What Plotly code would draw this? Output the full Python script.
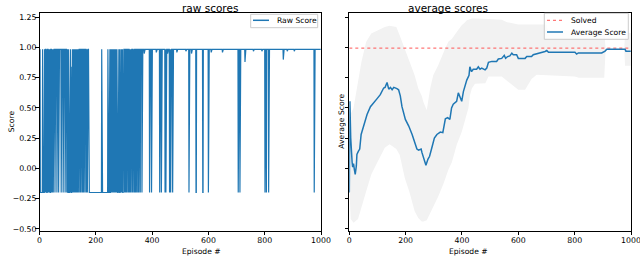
import plotly.graph_objects as go

# ---------------- data ----------------
n_episodes = 1000
episode_ticks = [0, 200, 400, 600, 800, 1000]
score_ticks = [-0.50, -0.25, 0.00, 0.25, 0.50, 0.75, 1.00, 1.25]

success_score = 0.985
fail_score = -0.2
solved_score = 0.995

# runs of failed episodes (inclusive start, end)
fail_runs = [(0, 0), (3, 10), (12, 17), (19, 20), (23, 23), (26, 27), (31, 31), (34, 34), (38, 39),
             (43, 43), (46, 46), (49, 49), (55, 55), (62, 62), (68, 68), (77, 77), (84, 84), (91, 91),
             (97, 97), (101, 102), (104, 104), (106, 107), (109, 109), (111, 111), (113, 114), (116, 116),
             (118, 118), (121, 121), (123, 123), (125, 125), (128, 128), (131, 131), (134, 134), (138, 138),
             (143, 143), (147, 147), (152, 152), (156, 156), (161, 161), (166, 166), (170, 170), (175, 220),
             (222, 242), (244, 244), (246, 247), (249, 249), (251, 252), (254, 254), (256, 256), (258, 259),
             (261, 261), (263, 263), (265, 265), (267, 267), (269, 269), (271, 271), (273, 274), (276, 276),
             (278, 279), (281, 281), (283, 283), (285, 286), (288, 288), (290, 290), (292, 292), (294, 294),
             (296, 297), (299, 299), (302, 302), (305, 305), (308, 308), (311, 311), (314, 314), (316, 316),
             (319, 319), (322, 322), (325, 325), (327, 327), (330, 330), (333, 333), (335, 335), (337, 337),
             (340, 340), (344, 344), (349, 349), (353, 353), (358, 358), (364, 364), (391, 391), (398, 398),
             (427, 427), (433, 433), (446, 446), (449, 449), (462, 462), (466, 466), (473, 473), (531, 531),
             (556, 557), (580, 581), (600, 600), (706, 706), (712, 712), (801, 801), (806, 806), (814, 814),
             (976, 976)]

partial_eps = [37, 70, 92, 105, 112, 119, 372, 415, 455, 488, 520, 540, 610, 650, 730, 760, 790, 866, 880, 905]
partial_vals = [0.93, 0.88, 0.9, 0.91, 0.84, 0.86, 0.95, 0.96, 0.95, 0.96, 0.97, 0.95, 0.96, 0.96, 0.88,
                0.97, 0.97, 0.9, 0.97, 0.97]

avg_eps = [0, 1, 2, 5, 8, 10, 12, 15, 18, 21, 25, 27, 32, 37, 42, 51, 63, 75, 87, 98,
           110, 122, 127, 134, 140, 146, 152, 158, 169, 175, 181, 187, 199, 211, 223, 234, 240, 246, 255, 258,
           264, 272, 279, 285, 293, 302, 311, 323, 332, 341, 349, 357, 363, 369, 381, 387, 393, 399, 405, 411,
           417, 425, 428, 434, 440, 452, 458, 464, 470, 482, 488, 494, 506, 523, 529, 541, 550, 555, 562, 570,
           577, 582, 594, 600, 624, 630, 647, 653, 670, 676, 695, 701, 707, 801, 807, 813, 896, 908, 914, 979,
           982, 999]
avg_vals = [-0.2, 0.39, 0.555, 0.25, 0.066, 0.05, 0.01, 0.04, -0.01, -0.05, 0.02, 0.115, 0.14, 0.16, 0.28,
            0.36, 0.445, 0.51, 0.54, 0.575, 0.61, 0.665, 0.67, 0.71, 0.655, 0.67, 0.65, 0.67, 0.66, 0.65,
            0.6, 0.51, 0.405, 0.35, 0.28, 0.21, 0.16, 0.15, 0.16, 0.13, 0.075, 0.025, 0.075, 0.1, 0.17,
            0.25, 0.28, 0.3, 0.295, 0.41, 0.42, 0.405, 0.5, 0.53, 0.555, 0.625, 0.59, 0.555, 0.635, 0.69,
            0.73, 0.77, 0.84, 0.8, 0.82, 0.82, 0.84, 0.82, 0.83, 0.815, 0.83, 0.877, 0.885, 0.885, 0.905,
            0.91, 0.935, 0.91, 0.925, 0.93, 0.953, 0.94, 0.94, 0.91, 0.91, 0.925, 0.925, 0.94, 0.95, 0.96,
            0.967, 0.975, 0.96, 0.96, 0.946, 0.955, 0.955, 0.97, 0.985, 0.985, 0.97, 0.97]

band_eps = [2, 5, 15, 31, 43, 60, 78, 102, 126, 143, 167, 179, 197, 214, 232, 245, 257, 263, 275, 287,
            298, 316, 334, 340, 352, 364, 382, 399, 411, 417, 423, 428, 435, 446, 483, 494, 541, 560, 600,
            624, 647, 665, 700, 705, 800, 815, 905, 910, 976, 979, 999]
band_upper = [0.56, 0.45, 0.5, 0.7, 0.88, 1.047, 1.115, 1.143, 1.17, 1.18, 1.17, 1.1, 0.99, 0.88, 0.77,
              0.66, 0.6, 0.55, 0.48, 0.66, 0.77, 0.855, 0.965, 0.99, 1.05, 1.07, 1.13, 1.185, 1.21, 1.225,
              1.23, 1.235, 1.24, 1.24, 1.24, 1.235, 1.23, 1.21, 1.19, 1.19, 1.19, 1.19, 1.19, 1.14, 1.14,
              1.14, 1.14, 0.985, 0.985, 1.12, 1.12]
band_lower = [-0.25, -0.42, -0.45, -0.42, -0.33, -0.19, -0.05, 0.06, 0.17, 0.2, 0.16, 0.11, -0.08, -0.2,
              -0.355, -0.41, -0.44, -0.44, -0.43, -0.38, -0.32, -0.23, -0.13, -0.1, -0.01, 0.05, 0.2, 0.3,
              0.4, 0.45, 0.5, 0.6, 0.66, 0.7, 0.705, 0.76, 0.76, 0.72, 0.65, 0.65, 0.74, 0.775, 0.775, 0.77,
              0.76, 0.75, 0.75, 0.985, 0.985, 0.85, 0.85]

# ---------------- build raw series from the read data ----------------
episodes = list(range(n_episodes))
raw_scores = [success_score] * n_episodes
for a, b in fail_runs:
    for e in range(a, b + 1):
        raw_scores[e] = fail_score
for e, v in zip(partial_eps, partial_vals):
    raw_scores[e] = v

BLUE = "#1f77b4"
RED = "#ff5555"
FONT = "DejaVu Sans"
W, H = 640, 256


def px(x):
    return x / W


def py(y):
    return 1 - y / H


fig = go.Figure()

fig.add_trace(go.Scatter(x=episodes, y=raw_scores, mode="lines", name="Raw Score",
                         line=dict(color=BLUE, width=1.2), xaxis="x", yaxis="y", showlegend=False))

fig.add_trace(go.Scatter(x=band_eps + band_eps[::-1], y=band_upper + band_lower[::-1],
                         mode="lines", fill="toself", fillcolor="#f2f2f2", line=dict(width=0),
                         showlegend=False, hoverinfo="skip", xaxis="x2", yaxis="y2"))

fig.add_trace(go.Scatter(x=[episode_ticks[0], episode_ticks[-1]], y=[solved_score, solved_score],
                         mode="lines", name="Solved",
                         line=dict(color=RED, width=1, dash="dot"),
                         xaxis="x2", yaxis="y2", showlegend=False))

fig.add_trace(go.Scatter(x=avg_eps, y=avg_vals, mode="lines", name="Average Score",
                         line=dict(color=BLUE, width=1.5), xaxis="x2", yaxis="y2", showlegend=False))

TICK = 7.8
LAB = 7.6
ax_common = dict(showline=True, mirror=True, linecolor="black", linewidth=0.8, ticks="outside",
                 ticklen=3.5, tickwidth=0.8, tickcolor="black", showgrid=False, zeroline=False,
                 automargin=False, ticklabeloverflow="allow",
                 tickfont=dict(family=FONT, size=TICK, color="black"))

yr = [-0.516, 1.288]

# hand-drawn legends (box + line samples)
shapes = [
    dict(type="rect", xref="paper", yref="paper", x0=px(250.7), x1=px(317.7), y0=py(27.7), y1=py(14.3),
         line=dict(color="#cccccc", width=1), fillcolor="rgba(255,255,255,0.8)", layer="above"),
    dict(type="line", xref="paper", yref="paper", x0=px(253), x1=px(269), y0=py(20.3), y1=py(20.3),
         line=dict(color=BLUE, width=1.5), layer="above"),
    dict(type="rect", xref="paper", yref="paper", x0=px(544.3), x1=px(628.3), y0=py(39.3), y1=py(13.3),
         line=dict(color="#cccccc", width=1), fillcolor="rgba(255,255,255,0.8)", layer="above"),
    dict(type="line", xref="paper", yref="paper", x0=px(547), x1=px(563), y0=py(20.3), y1=py(20.3),
         line=dict(color=RED, width=1, dash="dot"), layer="above"),
    dict(type="line", xref="paper", yref="paper", x0=px(547), x1=px(563), y0=py(32), y1=py(32),
         line=dict(color=BLUE, width=1.5), layer="above"),
]

ann_font = dict(family=FONT, size=LAB, color="black")
title_font = dict(family=FONT, size=10.5, color="black")
annotations = [
    dict(text="raw scores", x=px(180.3), y=py(0), yanchor="top", font=title_font),
    dict(text="average scores", x=px(490.2), y=py(0), yanchor="top", font=title_font),
    dict(text="Episode #", x=px(180.3), y=py(251), yanchor="middle", font=ann_font),
    dict(text="Episode #", x=px(490.2), y=py(251), yanchor="middle", font=ann_font),
    dict(text="Score", x=px(5), y=py(121.7), textangle=-90, font=ann_font),
    dict(text="Average Score", x=px(342), y=py(121.7), textangle=-90, font=ann_font),
    dict(text="Raw Score", x=px(274.5), y=py(20.3), xanchor="left", yanchor="middle", font=ann_font),
    dict(text="Solved", x=px(568.5), y=py(20.3), xanchor="left", yanchor="middle", font=ann_font),
    dict(text="Average Score", x=px(568.5), y=py(32), xanchor="left", yanchor="middle", font=ann_font),
]
for a in annotations:
    a.update(xref="paper", yref="paper", showarrow=False)

fig.update_layout(
    width=W, height=H, margin=dict(l=0, r=0, t=0, b=0),
    paper_bgcolor="white", plot_bgcolor="white", showlegend=False,
    font=dict(family=FONT, size=8, color="black"),
    xaxis=dict(domain=[px(39.5), px(321)], range=[0, 1000], tickvals=episode_ticks, anchor="y",
               ticklabelstandoff=-1, **ax_common),
    yaxis=dict(domain=[py(230.7), py(12.7)], range=yr, tickvals=score_ticks, tickformat=".2f", anchor="x",
               ticklabelstandoff=-3, **ax_common),
    xaxis2=dict(domain=[px(349.3), px(631)], range=[0, 1000], tickvals=episode_ticks, anchor="y2",
                ticklabelstandoff=-1, **ax_common),
    yaxis2=dict(domain=[py(230.7), py(12.7)], range=yr, tickvals=score_ticks, showticklabels=False,
                anchor="x2", **ax_common),
    shapes=shapes,
    annotations=annotations,
)

fig.write_html("out.html", config={"displayModeBar": False},
               post_script="document.body.style.margin='0';document.body.style.overflow='hidden';")
